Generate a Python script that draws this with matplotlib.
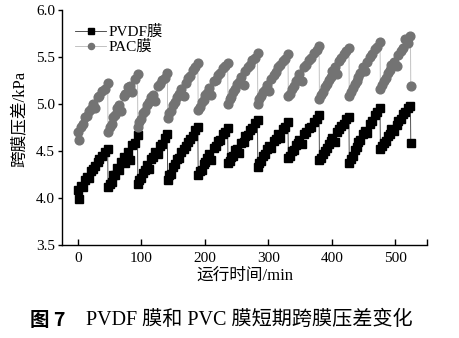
import matplotlib.pyplot as plt

plt.rcParams['font.family'] = ['Liberation Serif', 'Noto Sans CJK SC']
plt.rcParams['axes.unicode_minus'] = False

# running time (min), one row per filtration cycle, last value is the point after the final backwash
time_min = [
    0, 2, 5, 8, 11, 14, 17, 20, 24, 27, 31, 34, 38, 43, 47,
    47.5, 50, 53, 56, 59, 62, 65, 68, 72, 75, 79, 82, 86, 90, 94,
    94.5, 97, 100, 103, 106, 109, 112, 115, 119, 122, 126, 129, 133, 137, 141,
    141.5, 144, 147, 150, 153, 156, 159, 163, 167, 170, 174, 177, 181, 185, 189,
    189.5, 192, 195, 198, 201, 204, 207, 210, 214, 217, 221, 224, 228, 232, 236,
    236.5, 239, 242, 245, 248, 251, 254, 257, 261, 264, 268, 271, 275, 279, 283,
    283.5, 286, 289, 292, 295, 298, 301, 305, 309, 312, 316, 319, 323, 327, 331,
    331.5, 334, 337, 340, 343, 346, 349, 353, 357, 360, 364, 368, 372, 376, 380,
    380.5, 383, 386, 389, 392, 395, 398, 401, 405, 408, 412, 415, 419, 423, 427,
    427.5, 430, 433, 436, 439, 442, 445, 449, 453, 456, 460, 464, 468, 472, 476,
    476.5, 479, 482, 485, 488, 491, 494, 498, 502, 505, 509, 512, 516, 520, 524,
    524.5,
]

# transmembrane pressure, kPa
tmp_pvdf = [
    4.08, 3.99, 4.13, 4.12, 4.19, 4.22, 4.21, 4.29, 4.31, 4.34, 4.38, 4.42, 4.45, 4.49, 4.52,
    4.12, 4.15, 4.17, 4.25, 4.25, 4.32, 4.30, 4.38, 4.44, 4.37, 4.49, 4.40, 4.56, 4.59, 4.67,
    4.15, 4.19, 4.21, 4.27, 4.30, 4.35, 4.31, 4.42, 4.44, 4.49, 4.47, 4.55, 4.57, 4.64, 4.68,
    4.19, 4.24, 4.26, 4.33, 4.36, 4.41, 4.43, 4.49, 4.52, 4.55, 4.60, 4.63, 4.66, 4.72, 4.76,
    4.24, 4.29, 4.30, 4.36, 4.38, 4.43, 4.47, 4.40, 4.53, 4.55, 4.61, 4.62, 4.68, 4.70, 4.74,
    4.37, 4.39, 4.44, 4.45, 4.51, 4.52, 4.48, 4.59, 4.60, 4.66, 4.67, 4.72, 4.74, 4.80, 4.83,
    4.33, 4.37, 4.39, 4.45, 4.47, 4.52, 4.55, 4.53, 4.61, 4.63, 4.68, 4.64, 4.73, 4.76, 4.81,
    4.43, 4.45, 4.50, 4.51, 4.56, 4.59, 4.62, 4.57, 4.68, 4.70, 4.74, 4.76, 4.81, 4.84, 4.88,
    4.40, 4.43, 4.47, 4.50, 4.53, 4.57, 4.61, 4.64, 4.60, 4.70, 4.73, 4.77, 4.79, 4.84, 4.86,
    4.37, 4.42, 4.45, 4.51, 4.54, 4.60, 4.62, 4.68, 4.71, 4.69, 4.79, 4.82, 4.88, 4.91, 4.96,
    4.52, 4.55, 4.59, 4.61, 4.66, 4.68, 4.73, 4.71, 4.78, 4.82, 4.84, 4.89, 4.91, 4.96, 4.98,
    4.58,
]

tmp_pac = [
    4.70, 4.62, 4.76, 4.79, 4.86, 4.87, 4.93, 4.95, 5.00, 4.96, 5.07, 5.09, 5.14, 5.16, 5.22,
    4.70, 4.76, 4.79, 4.86, 4.88, 4.96, 4.99, 4.93, 5.09, 5.11, 5.18, 5.19, 5.13, 5.27, 5.32,
    4.76, 4.81, 4.84, 4.90, 4.93, 4.99, 5.02, 5.07, 5.10, 5.03, 5.19, 5.21, 5.26, 5.28, 5.33,
    4.85, 4.90, 4.93, 4.99, 5.02, 5.07, 5.11, 5.16, 5.08, 5.22, 5.28, 5.30, 5.36, 5.39, 5.44,
    4.94, 4.97, 5.02, 5.04, 5.10, 5.12, 5.17, 5.10, 5.24, 5.26, 5.31, 5.33, 5.38, 5.40, 5.44,
    5.00, 5.05, 5.07, 5.13, 5.16, 5.21, 5.23, 5.29, 5.20, 5.35, 5.39, 5.42, 5.47, 5.49, 5.54,
    5.00, 5.05, 5.08, 5.13, 5.15, 5.20, 5.14, 5.27, 5.31, 5.34, 5.39, 5.41, 5.46, 5.48, 5.53,
    5.08, 5.11, 5.16, 5.19, 5.24, 5.27, 5.32, 5.25, 5.39, 5.42, 5.47, 5.49, 5.54, 5.57, 5.62,
    5.05, 5.10, 5.13, 5.18, 5.21, 5.26, 5.29, 5.35, 5.39, 5.32, 5.46, 5.49, 5.53, 5.56, 5.60,
    5.08, 5.13, 5.17, 5.21, 5.25, 5.29, 5.33, 5.39, 5.35, 5.45, 5.50, 5.53, 5.58, 5.61, 5.66,
    5.16, 5.20, 5.25, 5.28, 5.33, 5.36, 5.41, 5.45, 5.40, 5.52, 5.56, 5.60, 5.69, 5.65, 5.72,
    5.19,
]

x_ticks = [0, 100, 200, 300, 400, 500]
y_ticks = [3.5, 4.0, 4.5, 5.0, 5.5, 6.0]

fig = plt.figure(figsize=(4.59, 3.38), dpi=100)
ax = fig.add_axes([62 / 459, 93 / 338, 365 / 459, 235 / 338])

ax.plot(time_min, tmp_pvdf, marker='s', markersize=5.8, color='0.2', linewidth=0.6,
        markerfacecolor='black', markeredgecolor='black', label='PVDF膜')
ax.plot(time_min, tmp_pac, marker='o', markersize=6.3, color='0.72', linewidth=0.6,
        markerfacecolor='0.45', markeredgecolor='0.45', label='PAC膜')

ax.set_xlim(-25, 550)
ax.set_ylim(3.5, 6.0)
ax.set_xticks(x_ticks + [550])
ax.set_xticklabels([str(v) for v in x_ticks] + [''])
ax.set_yticks(y_ticks)
ax.set_yticklabels(['%.1f' % v for v in y_ticks])

ax.spines['top'].set_visible(False)
ax.spines['right'].set_visible(False)
for s in ('left', 'bottom'):
    ax.spines[s].set_linewidth(1.0)
ax.tick_params(axis='x', direction='in', length=4, width=1, labelsize=11, pad=5)
ax.tick_params(axis='y', direction='out', length=3, width=1, labelsize=11, pad=2)

ax.set_xlabel('运行时间/min', fontsize=12, labelpad=2)
ax.set_ylabel('跨膜压差/kPa', fontsize=12)
ax.yaxis.set_label_coords(-0.093, 0.535)

ax.legend(loc='upper left', bbox_to_anchor=(0.02, 0.963), frameon=False, fontsize=11,
          handlelength=2.0, handletextpad=0.2, borderaxespad=0, labelspacing=0.05,
          markerscale=0.7)

fig.text(30 / 459, 1 - 320 / 338, '图 7', fontsize=14, fontweight='bold',
         family=['Noto Sans CJK SC'], ha='left', va='center')
fig.text(86 / 459, 1 - 320 / 338, 'PVDF 膜和 PVC 膜短期跨膜压差变化', fontsize=14.5,
         ha='left', va='center')

fig.savefig('out.png', dpi=100)
